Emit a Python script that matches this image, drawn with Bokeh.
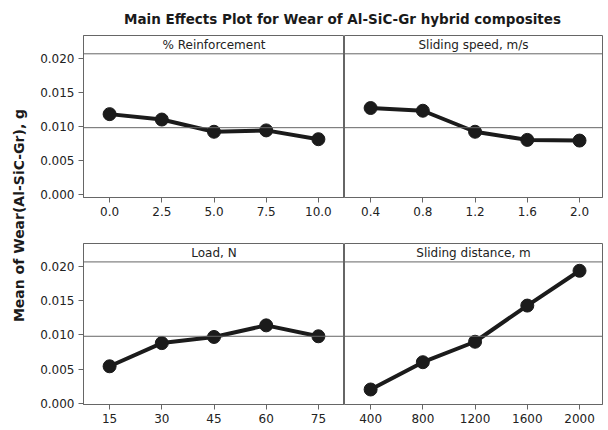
import math
from bokeh.plotting import figure
from bokeh.models import Span, Label, FixedTicker, NumeralTickFormatter, Range1d
from bokeh.layouts import row, column
from bokeh.embed import file_html
from bokeh.resources import INLINE

# ---- data ----
reinf_levels = [0.0, 2.5, 5.0, 7.5, 10.0]
reinf_wear = [0.0118, 0.0110, 0.0092, 0.0094, 0.0081]
speed_levels = [0.4, 0.8, 1.2, 1.6, 2.0]
speed_wear = [0.0127, 0.0123, 0.0092, 0.0080, 0.0079]
load_levels = [15, 30, 45, 60, 75]
load_wear = [0.0054, 0.0088, 0.0097, 0.0114, 0.0098]
dist_levels = [400, 800, 1200, 1600, 2000]
dist_wear = [0.0020, 0.0060, 0.0090, 0.0143, 0.0194]
grand_mean = 0.0098
y_ticks = [0.000, 0.005, 0.010, 0.015, 0.020]
panel_titles = ["% Reinforcement", "Sliding speed, m/s", "Load, N", "Sliding distance, m"]
chart_title = "Main Effects Plot for Wear of Al-SiC-Gr hybrid composites"
y_label = "Mean of Wear(Al-SiC-Gr), g"

FONT = "DejaVu Sans"
GRAY = "#666666"
INK = "#1b1b1b"
HEADER_Y = 0.0207
TOP_Y = 0.0234


def make_panel(title, levels, wear, x_range, y_range, left, bottom_border, fmt,
               frame_w, frame_h):
    p = figure(output_backend="svg", toolbar_location=None,
               frame_width=frame_w, frame_height=frame_h,
               x_range=Range1d(*x_range), y_range=Range1d(*y_range),
               y_axis_location="left" if left else None,
               min_border_left=53 if left else 0, min_border_right=0 if left else 6,
               min_border_top=0, min_border_bottom=bottom_border)
    p.outline_line_color = GRAY
    p.outline_line_width = 1
    p.xgrid.visible = False
    p.ygrid.visible = False
    p.background_fill_color = "white"
    p.border_fill_color = "white"

    xa = p.xaxis[0]
    xa.ticker = FixedTicker(ticks=levels)
    xa.formatter = NumeralTickFormatter(format=fmt)
    xa.axis_line_color = GRAY
    xa.major_tick_line_color = GRAY
    xa.major_tick_out = 5
    xa.major_tick_in = 0
    xa.minor_tick_line_color = None
    xa.major_label_standoff = 4
    xa.major_label_text_font = FONT
    xa.major_label_text_font_size = "12px"
    xa.major_label_text_color = "#222222"

    if left:
        ya = p.yaxis[0]
        ya.ticker = FixedTicker(ticks=y_ticks)
        ya.formatter = NumeralTickFormatter(format="0.000")
        ya.axis_line_color = GRAY
        ya.major_tick_line_color = GRAY
        ya.major_tick_out = 5
        ya.major_tick_in = 0
        ya.minor_tick_line_color = None
        ya.major_label_standoff = 4
        ya.major_label_text_font = FONT
        ya.major_label_text_font_size = "12px"
        ya.major_label_text_color = "#222222"

    # strip header
    p.add_layout(Span(location=HEADER_Y, dimension="width", line_color=GRAY, line_width=1))
    p.add_layout(Label(x=(x_range[0] + x_range[1]) / 2, y=(HEADER_Y + TOP_Y) / 2,
                       text=title, text_align="center", text_baseline="middle",
                       text_font=FONT, text_font_size="12px", text_color="#222222"))
    # reference line (grand mean)
    p.add_layout(Span(location=grand_mean, dimension="width", line_color=GRAY, line_width=1))

    p.line(levels, wear, line_color=INK, line_width=4)
    p.scatter(levels, wear, size=13, fill_color=INK, line_color=INK)
    return p


tl = make_panel(panel_titles[0], reinf_levels, reinf_wear, (-1.25, 11.25), (-0.0005, TOP_Y),
                True, 46, "0.0", 261, 162)
tr = make_panel(panel_titles[1], speed_levels, speed_wear, (0.2, 2.176), (-0.0005, TOP_Y),
                False, 46, "0.0", 258, 162)
bl = make_panel(panel_titles[2], load_levels, load_wear, (7.5, 82.5), (-0.0002, TOP_Y),
                True, 26, "0", 261, 161)
br = make_panel(panel_titles[3], dist_levels, dist_wear, (200, 2176), (-0.0002, TOP_Y),
                False, 26, "0", 258, 161)

# title strip
tfig = figure(output_backend="svg", toolbar_location=None, frame_width=578, frame_height=35,
              x_range=Range1d(0, 578), y_range=Range1d(0, 35),
              x_axis_location=None, y_axis_location=None, min_border=0)
tfig.outline_line_color = None
tfig.xgrid.visible = False
tfig.ygrid.visible = False
tfig.add_layout(Label(x=312, y=17, text=chart_title, text_align="center", text_baseline="middle",
                      text_font=FONT, text_font_style="bold", text_font_size="13.5px",
                      text_color="#1a1a1a"))

# y label strip
yfig = figure(output_backend="svg", toolbar_location=None, frame_width=30, frame_height=430,
              x_range=Range1d(0, 30), y_range=Range1d(0, 430),
              x_axis_location=None, y_axis_location=None, min_border=0)
yfig.outline_line_color = None
yfig.xgrid.visible = False
yfig.ygrid.visible = False
yfig.add_layout(Label(x=18, y=430 - 215, text=y_label, angle=math.pi / 2,
                      text_align="center", text_baseline="middle",
                      text_font=FONT, text_font_style="bold", text_font_size="14px",
                      text_color="#1a1a1a"))

grid = column(tfig, row(tl, tr, spacing=0), row(bl, br, spacing=0), spacing=0)
layout = row(yfig, grid, spacing=0)

open("out.html", "w").write(file_html(layout, INLINE))
